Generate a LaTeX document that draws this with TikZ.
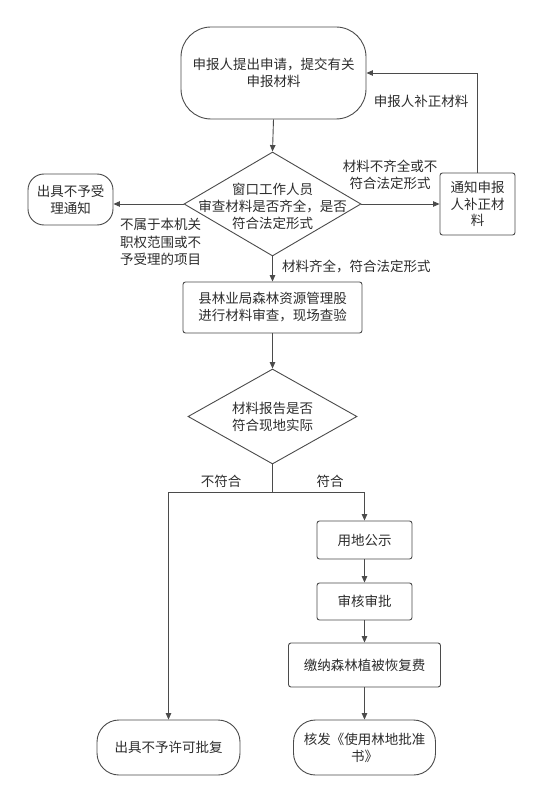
\documentclass[tikz,border=0pt]{standalone}
\usepackage{fontspec}
\newfontfamily\cjk{Noto Sans CJK SC}
\usetikzlibrary{arrows.meta,shapes.geometric}
\definecolor{linec}{RGB}{75,75,75}
\definecolor{txtc}{RGB}{45,45,45}
\begin{document}
\begin{tikzpicture}[x=1pt,y=-1pt,
  base/.style={inner sep=0pt, align=center, text=txtc, font=\cjk\fontsize{13.5}{17}\selectfont},
  box/.style={base, draw=linec, line width=0.9pt, rounded corners=2.5pt},
  term/.style={base, draw=linec, line width=0.9pt, rounded corners=#1},
  dia/.style={diamond, draw=linec, line width=0.9pt, inner sep=0pt},
  lab/.style={base},
  conn/.style={draw=linec, line width=0.9pt},
  arr/.style={conn, -{Triangle[length=6.5pt,width=5.5pt]}}]
\useasboundingbox (0,0) rectangle (535,794);
\fill[white] (0,0) rectangle (535,794);
% nodes
\node[term=30pt, minimum width=185pt, minimum height=92pt] (top) at (273.5,73) {申报人提出申请，提交有关\\申报材料};
\node[dia, minimum width=177pt, minimum height=104pt] (d1) at (272.5,204) {};
\node[lab] (d1t) at (272.5,206) {窗口工作人员\\审查材料是否齐全，是否\\符合法定形式};
\node[term=16pt, minimum width=85pt, minimum height=51pt] (rej) at (70.5,199.5) {出具不予受\\理通知};
\node[box, minimum width=75pt, minimum height=62pt, font=\cjk\fontsize{13.5}{16.5}\selectfont] (notify) at (477.5,204) {通知申报\\人补正材\\料};
\node[box, minimum width=179pt, minimum height=51pt] (p1) at (272.5,307.5) {县林业局森林资源管理股\\进行材料审查，现场查验};
\node[dia, minimum width=169pt, minimum height=95pt] (d2) at (272.5,416.5) {};
\node[lab] (d2t) at (272.5,416.5) {材料报告是否\\符合现地实际};
\coordinate (jn) at (272.5,492);
\node[box, minimum width=95pt, minimum height=38pt] (ga) at (364.5,540) {用地公示};
\node[box, minimum width=95pt, minimum height=37pt] (gb) at (364.5,601.5) {审核审批};
\node[box, minimum width=152pt, minimum height=44pt] (gc) at (364.5,665) {缴纳森林植被恢复费};
\node[term=22pt, minimum width=142pt, minimum height=55pt] (ok) at (364.5,747.5) {核发《使用林地批准\\书》};
\node[term=22pt, minimum width=143pt, minimum height=55pt] (no) at (168.5,747.5) {出具不予许可批复};
% connectors
\draw[arr] (top.south) -- (d1.north);
\draw[arr] (d1.west) -- (d1.west -| rej.east);
\draw[arr] (d1.east) -- (d1.east -| notify.west);
\coordinate (nt) at (notify.north |- top.east);
\draw[arr] (notify.north) -- (nt) -- (top.east);
\draw[arr] (d1.south) -- (p1.north);
\draw[arr] (p1.south) -- (d2.north);
\draw[conn] (d2.south) -- (jn);
\draw[arr] (jn) -| (no.north);
\draw[arr] (jn) -| (ga.north);
\draw[arr] (ga.south) -- (gb.north);
\draw[arr] (gb.south) -- (gc.north);
\draw[arr] (gc.south) -- (ok.north);
% labels
\node[lab] (l1) at (421,101) {申报人补正材料};
\node[lab] (l2) at (390,175) {材料不齐全或不\\符合法定形式};
\node[lab, align=left, anchor=north west, font=\cjk\fontsize{13.5}{17.5}\selectfont] (l3) at (120,218) {不属于本机关\\职权范围或不\\予受理的项目};
\node[lab, anchor=west] (l4) at (282,266) {材料齐全，符合法定形式};
\node[lab] (l5) at (221,481) {不符合};
\node[lab] (l6) at (330,481) {符合};
\end{tikzpicture}
\end{document}
